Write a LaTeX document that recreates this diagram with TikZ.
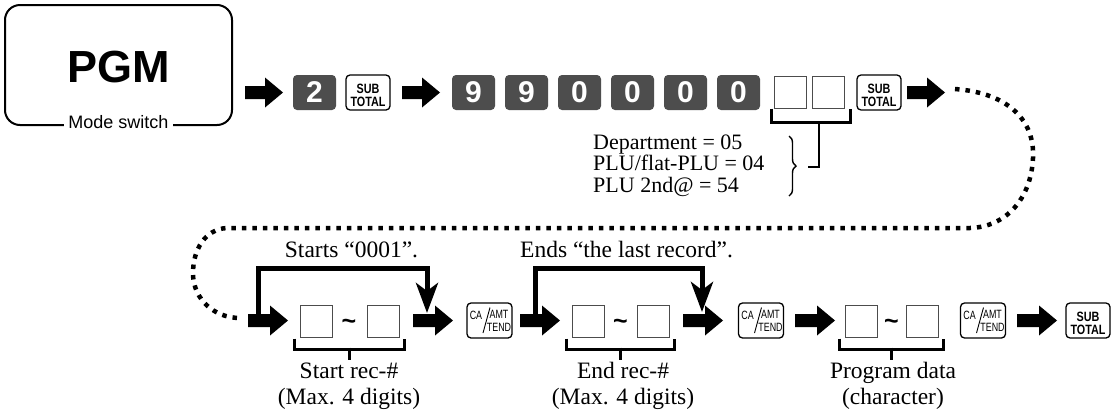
\documentclass[tikz,border=0pt]{standalone}
\usepackage{fontspec}
\setmainfont{Liberation Serif}
\newfontfamily\hv{Liberation Sans}
\newfontfamily\hvc[FakeStretch=0.8]{Liberation Sans}
\newfontfamily\hvcc[FakeStretch=0.74]{Liberation Sans}
\usetikzlibrary{arrows.meta,decorations.pathreplacing,calc}
\definecolor{keygray}{HTML}{4D4D4D}
\begin{document}
\begin{tikzpicture}[x=1pt,y=-1pt,
  numkey/.style={fill=keygray, rounded corners=4pt, minimum width=43pt, minimum height=35pt, inner sep=0pt, text=white, font=\hv\bfseries\fontsize{30}{30}\selectfont},
  wkey/.style={draw, line width=1.3pt, rounded corners=4pt, fill=white, minimum width=44pt, minimum height=35pt, inner sep=0pt},
  ebox/.style={draw=black!70, line width=1pt, minimum size=32pt, inner sep=0pt},
  tld/.style={font=\hv\bfseries\fontsize{25}{25}\selectfont, inner sep=0pt},
  serif/.style={font=\fontsize{23.5}{26}\selectfont, inner sep=0pt},
  dept/.style={font=\fontsize{22}{24}\selectfont, inner sep=0pt, anchor=base west},
  sublbl/.style={font=\hvc\bfseries\fontsize{13.5}{13.5}\selectfont, inner sep=0pt, anchor=base},
  calbl/.style={font=\hvcc\fontsize{12}{12}\selectfont, inner sep=0pt},
  brk/.style={line width=2.5pt},
  conn/.style={line width=5pt, -{Stealth[length=30pt,width=22pt,inset=8pt]}},
  dotline/.style={line width=4.5pt, dash pattern=on 4.5pt off 6pt},
  barrow/.pic={\fill (0,-6.5) -- ({#1-18},-6.5) -- ({#1-18},-15) -- (#1,0) -- ({#1-18},15) -- ({#1-18},6.5) -- (0,6.5) -- cycle;},
  subkey/.pic={\node[wkey] (-k) {};
    \node[sublbl] (-a) at (0,0.5) {SUB};
    \node[sublbl] (-b) at (0,13.5) {TOTAL};},
  cakey/.pic={\node[wkey, minimum width=45pt] (-k) {};
    \node[calbl] (-ca) at (-13.5,-5) {CA};
    \node[calbl] (-amt) at (9.5,-6) {AMT};
    \node[calbl] (-tend) at (9.5,6.5) {TEND};
    \draw[line width=0.9pt] (-6.5,12.5) -- (0.5,-13);}
]
\useasboundingbox (0,0) rectangle (1111,413);
\fill[white] (0,0) rectangle (1111,413);

% mode switch box
\node[draw, line width=2pt, rounded corners=15pt, minimum width=227pt, minimum height=120pt, inner sep=0pt] (pgmbox) at (118.5,65) {};
\node[font=\hv\bfseries\fontsize{45}{45}\selectfont, inner sep=0pt] (pgm) at (118.5,67) {PGM};
\node[fill=white, font=\hv\fontsize{18}{18}\selectfont, inner xsep=4pt, inner ysep=2pt, anchor=base] (mode) at (118.5,128) {Mode switch};

% top row
\pic at (245,92.5) {barrow=38};
\node[numkey] (k2) at (314.5,92.5) {2};
\pic (s1) at (368,92.5) {subkey};
\pic at (402,92.5) {barrow=38};
\node[numkey] (n1) at (473.5,92.5) {9};
\node[numkey] (n2) at (526.5,92.5) {9};
\node[numkey] (n3) at (579.5,92.5) {0};
\node[numkey] (n4) at (632.5,92.5) {0};
\node[numkey] (n5) at (685.5,92.5) {0};
\node[numkey] (n6) at (738.5,92.5) {0};
\node[ebox] (e1) at (790,92) {};
\node[ebox] (e2) at (828,92) {};
\pic (s2) at (879,92.5) {subkey};
\pic at (907,92.5) {barrow=38};

% bracket under the two boxes
\coordinate (tbl) at ([xshift=-2pt]e1.south west);
\coordinate (tbr) at ([xshift=6pt]e2.south east);
\draw[brk] (tbl) -- ++(0,14) -| (tbr);
\coordinate (tstem) at (819,122);
\coordinate (tend) at (808,167);
\draw[brk] (tstem) |- (tend);

% brace and department text
\draw[decorate, decoration={brace, amplitude=7pt}, line width=1.4pt] (789,136) -- (789,196);
\node[dept] (d1) at (593,149) {Department = 05};
\node[dept] (d2) at (593,170.5) {PLU/flat-PLU = 04};
\node[dept] (d3) at (593,192) {PLU 2nd@ = 54};

% dotted continuation
\draw[dotline] (955,89) .. controls (1010,93) and (1035,122) .. (1033,158)
  .. controls (1031,200) and (1005,227) .. (970,228) -- (227,228)
  .. controls (205,229) and (193,250) .. (193,273)
  .. controls (193,300) and (215,318) .. (240,318);

% bottom row
\pic at (248,320.5) {barrow=40};
\node[ebox] (b1) at (316,321) {};
\node[tld] (t1) at (349,324) {\textasciitilde};
\node[ebox] (b2) at (383,321) {};
\pic at (413,320.5) {barrow=40};
\pic (c1) at (489.5,320.5) {cakey};
\pic at (520,320.5) {barrow=40};
\node[ebox] (b3) at (588,321) {};
\node[tld] (t2) at (620.5,324) {\textasciitilde};
\node[ebox] (b4) at (653,321) {};
\pic at (683,320.5) {barrow=40};
\pic (c2) at (761,320.5) {cakey};
\pic at (795,320.5) {barrow=40};
\node[ebox] (b5) at (861,321) {};
\node[tld] (t3) at (891.5,324) {\textasciitilde};
\node[ebox] (b6) at (922,321) {};
\pic (c3) at (983,320.5) {cakey};
\pic at (1017,320.5) {barrow=40};
\pic (s3) at (1088,320.5) {subkey};

% brackets under bottom boxes
\foreach \l/\r in {b1/b2,b3/b4,b5/b6}{
  \draw[brk] ([xshift=-5pt,yshift=-1pt]\l.south west) -- ++(0,11) -| ([xshift=5pt,yshift=-1pt]\r.south east);
  \draw[brk] ($([xshift=-5pt]\l.south west)!0.5!([xshift=5pt]\r.south east)+(0,10)$) -- ++(0,12);
}

% labels of the bottom row
\node[serif, anchor=base] (st) at (351.5,257) {Starts “0001”.};
\node[serif, anchor=base] (en) at (626.5,257) {Ends “the last record”.};
\node[serif, anchor=base] (l1a) at (349,378) {Start rec-\#};
\node[serif, anchor=base] (l1b) at (349,404) {(Max. 4 digits)};
\node[serif, anchor=base] (l2a) at (623,378) {End rec-\#};
\node[serif, anchor=base] (l2b) at (623,404) {(Max. 4 digits)};
\node[serif, anchor=base] (l3a) at (893,378) {Program data};
\node[serif, anchor=base] (l3b) at (893,404) {(character)};

% start / end connectors
\coordinate (sa) at (258,314);
\coordinate (sb) at (427,313);
\draw[conn] (sa) -- ++(0,-46) -| (sb);
\coordinate (ea) at (535,314);
\coordinate (eb) at (702,312);
\draw[conn] (ea) -- ++(0,-46) -| (eb);
\end{tikzpicture}
\end{document}
